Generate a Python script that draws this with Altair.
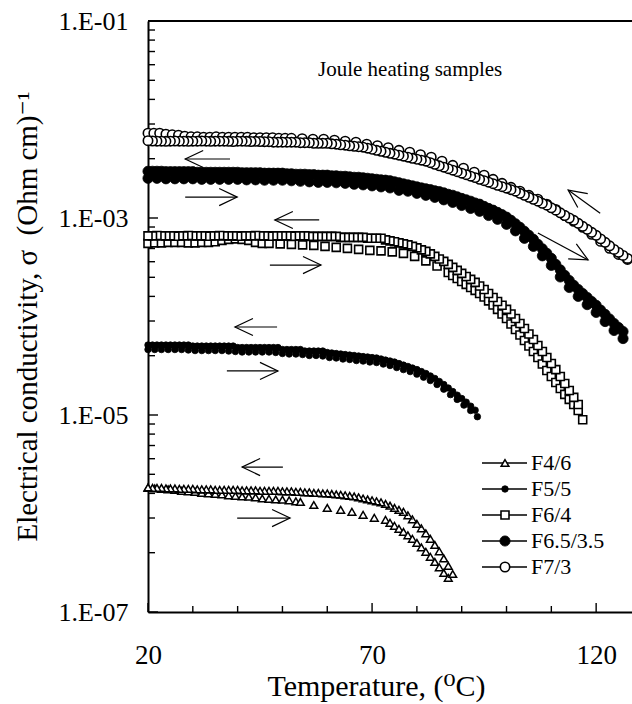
import altair as alt
import pandas as pd

FONT = "'Liberation Serif', 'Times New Roman', 'DejaVu Serif', serif"

# ---------------------------------------------------------------
# Conductivity readings, sigma in (Ohm cm)^-1, temperature in degC
# Each composition has a heating and a cooling run.
# ---------------------------------------------------------------

# F4/6
f46_heat_T = [20, 21.5, 23, 24.5, 26, 27.5, 29, 30.5, 32, 33.5, 35, 36.5, 38, 39.5, 41, 42.5,
              44, 45.5, 47, 48.5, 50, 51.5, 53, 54, 57, 60, 63, 65.5, 68, 70.5, 73,
              74, 75, 76, 77, 78, 79, 80, 81, 82, 83, 84, 85, 86, 87]
f46_heat_s = [1.82e-6, 1.80e-6, 1.78e-6, 1.76e-6, 1.74e-6, 1.70e-6, 1.68e-6, 1.66e-6, 1.62e-6,
              1.60e-6, 1.58e-6, 1.56e-6, 1.53e-6, 1.51e-6, 1.49e-6, 1.48e-6, 1.46e-6, 1.42e-6,
              1.41e-6, 1.39e-6, 1.38e-6, 1.36e-6, 1.33e-6, 1.31e-6, 1.22e-6, 1.14e-6, 1.09e-6,
              1.04e-6, 9.70e-7, 9.04e-7, 8.63e-7, 8.04e-7, 7.50e-7, 6.99e-7, 6.51e-7, 6.00e-7,
              5.53e-7, 5.03e-7, 4.53e-7, 4.08e-7, 3.63e-7, 3.22e-7, 2.84e-7, 2.49e-7, 2.22e-7]
f46_cool_T = [20, 21, 22, 23, 24, 25, 26, 27, 28, 29, 30, 31, 32, 33, 34, 35, 36, 37, 38, 39,
              40, 41, 42, 43, 44, 45, 46, 47, 48, 49, 50, 51, 52, 53, 54, 55, 56, 57, 58, 59,
              60, 61, 62, 63, 64, 65, 66, 67, 68, 69, 70, 71, 72, 73, 74, 75, 76, 77, 78, 79,
              80, 81, 82, 83, 84, 85, 86, 87, 88]
f46_cool_s = [1.84e-6, 1.82e-6, 1.82e-6, 1.82e-6, 1.80e-6, 1.80e-6, 1.80e-6, 1.78e-6, 1.78e-6,
              1.78e-6, 1.78e-6, 1.76e-6, 1.76e-6, 1.76e-6, 1.76e-6, 1.74e-6, 1.74e-6, 1.74e-6,
              1.74e-6, 1.74e-6, 1.74e-6, 1.72e-6, 1.72e-6, 1.72e-6, 1.72e-6, 1.70e-6, 1.70e-6,
              1.70e-6, 1.70e-6, 1.70e-6, 1.68e-6, 1.68e-6, 1.68e-6, 1.66e-6, 1.66e-6, 1.64e-6,
              1.64e-6, 1.62e-6, 1.62e-6, 1.60e-6, 1.60e-6, 1.58e-6, 1.56e-6, 1.55e-6, 1.53e-6,
              1.51e-6, 1.49e-6, 1.46e-6, 1.42e-6, 1.39e-6, 1.36e-6, 1.33e-6, 1.30e-6, 1.25e-6,
              1.20e-6, 1.14e-6, 1.09e-6, 1.04e-6, 9.59e-7, 8.73e-7, 7.86e-7, 7.07e-7, 6.29e-7,
              5.53e-7, 4.80e-7, 4.13e-7, 3.50e-7, 2.94e-7, 2.43e-7]

# F5/5
f55_heat_T = [20, 21.5, 23, 24.5, 26, 27.5, 29, 30.5, 32, 33.5, 35, 36.5, 38, 39.5, 41, 42.5,
              44, 45.5, 47, 48.5, 50, 51.5, 53, 54.5, 56, 57.5, 59, 60.5, 62, 63.5, 65, 66.5,
              68, 69.5, 71, 72.5, 74, 75.5, 77, 78.5, 80, 81.5, 83, 84.5, 86, 87.5, 89, 90.5,
              92, 93.5]
f55_heat_s = [4.62e-5, 4.62e-5, 4.62e-5, 4.62e-5, 4.62e-5, 4.62e-5, 4.57e-5, 4.51e-5, 4.51e-5,
              4.51e-5, 4.51e-5, 4.51e-5, 4.46e-5, 4.41e-5, 4.36e-5, 4.36e-5, 4.36e-5, 4.36e-5,
              4.36e-5, 4.31e-5, 4.21e-5, 4.16e-5, 4.16e-5, 4.11e-5, 4.02e-5, 4.02e-5, 3.97e-5,
              3.83e-5, 3.79e-5, 3.70e-5, 3.66e-5, 3.57e-5, 3.53e-5, 3.45e-5, 3.41e-5, 3.29e-5,
              3.18e-5, 3.03e-5, 2.89e-5, 2.76e-5, 2.60e-5, 2.42e-5, 2.24e-5, 2.04e-5, 1.83e-5,
              1.61e-5, 1.44e-5, 1.26e-5, 1.11e-5, 9.61e-6]
f55_cool_T = [20, 21, 22, 23, 24, 25, 26, 27, 28, 29, 30, 31, 32, 33, 34, 35, 36, 37, 38, 39,
              40, 41, 42, 43, 44, 45, 46, 47, 48, 49, 50, 51, 52, 53, 54, 55, 56, 57, 58, 59,
              60, 61, 62, 63, 64, 65, 66, 67, 68, 69, 70, 71, 72, 73, 74, 75, 76, 77, 78, 79,
              80, 81, 82, 83, 84, 85, 86, 87, 88, 89, 90, 91, 92, 93]
f55_cool_s = [5.13e-5, 5.13e-5, 5.13e-5, 5.13e-5, 5.13e-5, 5.13e-5, 5.13e-5, 5.13e-5, 5.13e-5,
              5.13e-5, 5.01e-5, 5.01e-5, 5.01e-5, 5.01e-5, 5.01e-5, 5.01e-5, 5.01e-5, 5.01e-5,
              5.01e-5, 5.01e-5, 4.84e-5, 4.84e-5, 4.84e-5, 4.84e-5, 4.84e-5, 4.84e-5, 4.84e-5,
              4.84e-5, 4.84e-5, 4.84e-5, 4.62e-5, 4.62e-5, 4.62e-5, 4.62e-5, 4.62e-5, 4.46e-5,
              4.46e-5, 4.46e-5, 4.46e-5, 4.46e-5, 4.31e-5, 4.26e-5, 4.21e-5, 4.16e-5, 4.11e-5,
              4.06e-5, 4.02e-5, 3.97e-5, 3.92e-5, 3.88e-5, 3.83e-5, 3.79e-5, 3.70e-5, 3.61e-5,
              3.53e-5, 3.45e-5, 3.33e-5, 3.21e-5, 3.11e-5, 3.00e-5, 2.89e-5, 2.76e-5, 2.64e-5,
              2.49e-5, 2.35e-5, 2.19e-5, 2.04e-5, 1.88e-5, 1.73e-5, 1.59e-5, 1.47e-5, 1.35e-5,
              1.23e-5, 1.12e-5]

# F6/4
f64_heat_T = [20, 21.5, 23, 24.5, 26, 27.5, 29, 30.5, 32, 33.5, 35, 36.5, 38, 39.5, 41, 42.5,
              44, 45.5, 47, 49.5, 52, 54.5, 57, 59.5, 62, 64.5, 67, 69.5, 72, 74.5, 77, 79.5,
              82, 84.5, 87, 88, 89, 90, 91, 92, 93, 94, 95, 96, 97, 98, 99, 100, 101, 102,
              103, 104, 105, 106, 107, 108, 109, 110, 111, 112, 113, 114, 115, 116, 117]
f64_heat_s = [5.53e-4, 5.59e-4, 5.59e-4, 5.66e-4, 5.66e-4, 5.66e-4, 5.59e-4, 5.59e-4, 5.66e-4,
              5.66e-4, 5.73e-4, 5.93e-4, 6.07e-4, 6.14e-4, 6.07e-4, 5.93e-4, 5.66e-4, 5.53e-4,
              5.53e-4, 5.46e-4, 5.40e-4, 5.34e-4, 5.27e-4, 5.15e-4, 5.03e-4, 4.92e-4, 4.80e-4,
              4.69e-4, 4.64e-4, 4.53e-4, 4.37e-4, 4.08e-4, 3.67e-4, 3.26e-4, 2.80e-4, 2.61e-4,
              2.43e-4, 2.27e-4, 2.12e-4, 1.97e-4, 1.84e-4, 1.71e-4, 1.58e-4, 1.44e-4, 1.31e-4,
              1.18e-4, 1.06e-4, 9.54e-5, 8.39e-5, 7.38e-5, 6.48e-5, 5.70e-5, 5.01e-5, 4.41e-5,
              3.83e-5, 3.29e-5, 2.83e-5, 2.46e-5, 2.14e-5, 1.86e-5, 1.62e-5, 1.44e-5, 1.28e-5,
              1.11e-5, 8.96e-6]
f64_cool_T = [20, 21, 22, 23, 24, 25, 26, 27, 28, 29, 30, 31, 32, 33, 34, 35, 36, 37, 38, 39,
              40, 41, 42, 43, 44, 45, 46, 47, 48, 49, 50, 51, 52, 53, 54, 55, 56, 57, 58, 59,
              60, 61, 62, 63, 64, 65, 66, 67, 68, 69, 70, 71, 72, 73, 74, 75, 76, 77, 78, 79,
              80, 81, 82, 83, 84, 85, 86, 87, 88, 89, 90, 91, 92, 93, 94, 95, 96, 97, 98, 99,
              100, 101, 102, 103, 104, 105, 106, 107, 108, 109, 110, 111, 112, 113, 114, 115,
              116]
f64_cool_s = [6.59e-4, 6.59e-4, 6.65e-4, 6.59e-4, 6.59e-4, 6.59e-4, 6.52e-4, 6.59e-4, 6.59e-4,
              6.65e-4, 6.59e-4, 6.59e-4, 6.59e-4, 6.52e-4, 6.59e-4, 6.59e-4, 6.65e-4, 6.59e-4,
              6.59e-4, 6.59e-4, 6.52e-4, 6.59e-4, 6.59e-4, 6.59e-4, 6.65e-4, 6.59e-4, 6.59e-4,
              6.52e-4, 6.59e-4, 6.59e-4, 6.59e-4, 6.59e-4, 6.52e-4, 6.59e-4, 6.59e-4, 6.59e-4,
              6.51e-4, 6.51e-4, 6.51e-4, 6.51e-4, 6.51e-4, 6.51e-4, 6.51e-4, 6.36e-4, 6.36e-4,
              6.36e-4, 6.36e-4, 6.36e-4, 6.36e-4, 6.22e-4, 6.22e-4, 6.22e-4, 6.22e-4, 6.00e-4,
              5.86e-4, 5.73e-4, 5.59e-4, 5.46e-4, 5.34e-4, 5.15e-4, 4.97e-4, 4.75e-4, 4.58e-4,
              4.32e-4, 4.08e-4, 3.84e-4, 3.63e-4, 3.38e-4, 3.15e-4, 2.94e-4, 2.74e-4, 2.55e-4,
              2.38e-4, 2.22e-4, 2.04e-4, 1.88e-4, 1.71e-4, 1.56e-4, 1.42e-4, 1.30e-4, 1.18e-4,
              1.06e-4, 9.54e-5, 8.49e-5, 7.55e-5, 6.64e-5, 5.84e-5, 5.07e-5, 4.41e-5, 3.83e-5,
              3.33e-5, 2.89e-5, 2.46e-5, 2.09e-5, 1.77e-5, 1.51e-5, 1.28e-5]

# F6.5/3.5
f65_heat_T = [20, 22, 24, 26, 28, 30, 32, 34, 36, 38, 40, 42, 44, 46, 48, 50, 52, 54, 56, 58,
              60, 62, 64, 66, 68, 70, 72, 74, 76, 78, 80, 82, 84, 86, 88, 90, 92, 94, 96, 98,
              100, 102, 104, 106, 108, 110, 112, 114, 116, 118, 120, 122, 124, 126]
f65_heat_s = [2.53e-3, 2.53e-3, 2.50e-3, 2.50e-3, 2.50e-3, 2.50e-3, 2.47e-3, 2.47e-3, 2.47e-3,
              2.47e-3, 2.47e-3, 2.44e-3, 2.44e-3, 2.42e-3, 2.42e-3, 2.42e-3, 2.39e-3, 2.36e-3,
              2.33e-3, 2.30e-3, 2.30e-3, 2.28e-3, 2.25e-3, 2.20e-3, 2.17e-3, 2.12e-3, 2.07e-3,
              2.02e-3, 1.91e-3, 1.87e-3, 1.78e-3, 1.70e-3, 1.62e-3, 1.53e-3, 1.44e-3, 1.34e-3,
              1.25e-3, 1.17e-3, 1.06e-3, 9.70e-4, 8.63e-4, 7.41e-4, 6.22e-4, 5.15e-4, 4.13e-4,
              3.30e-4, 2.52e-4, 1.97e-4, 1.60e-4, 1.32e-4, 1.10e-4, 8.89e-5, 7.21e-5, 5.97e-5]
f65_cool_T = [20, 21, 22, 23, 24, 25, 26, 27, 28, 29, 30, 31, 32, 33, 34, 35, 36, 37, 38, 39,
              40, 41, 42, 43, 44, 45, 46, 47, 48, 49, 50, 51, 52, 53, 54, 55, 56, 57, 58, 59,
              60, 61, 62, 63, 64, 65, 66, 67, 68, 69, 70, 71, 72, 73, 74, 75, 76, 77, 78, 79,
              80, 81, 82, 83, 84, 85, 86, 87, 88, 89, 90, 91, 92, 93, 94, 95, 96, 97, 98, 99,
              100, 101, 102, 103, 104, 105, 106, 107, 108, 109, 110, 111, 112, 113, 114, 115,
              116, 117, 118, 119, 120, 121, 122, 123, 124, 125, 126]
f65_cool_s = [2.98e-3, 2.98e-3, 2.98e-3, 2.98e-3, 2.95e-3, 2.95e-3, 2.95e-3, 2.95e-3, 2.95e-3,
              2.95e-3, 2.95e-3, 2.91e-3, 2.91e-3, 2.91e-3, 2.91e-3, 2.91e-3, 2.91e-3, 2.91e-3,
              2.91e-3, 2.91e-3, 2.91e-3, 2.88e-3, 2.88e-3, 2.88e-3, 2.88e-3, 2.88e-3, 2.85e-3,
              2.85e-3, 2.85e-3, 2.85e-3, 2.85e-3, 2.81e-3, 2.81e-3, 2.78e-3, 2.78e-3, 2.78e-3,
              2.75e-3, 2.75e-3, 2.72e-3, 2.72e-3, 2.72e-3, 2.68e-3, 2.68e-3, 2.65e-3, 2.65e-3,
              2.62e-3, 2.59e-3, 2.59e-3, 2.56e-3, 2.53e-3, 2.50e-3, 2.47e-3, 2.44e-3, 2.42e-3,
              2.39e-3, 2.33e-3, 2.28e-3, 2.22e-3, 2.17e-3, 2.12e-3, 2.07e-3, 2.02e-3, 1.98e-3,
              1.94e-3, 1.89e-3, 1.85e-3, 1.80e-3, 1.74e-3, 1.70e-3, 1.64e-3, 1.58e-3, 1.53e-3,
              1.48e-3, 1.42e-3, 1.38e-3, 1.31e-3, 1.25e-3, 1.20e-3, 1.14e-3, 1.08e-3, 1.02e-3,
              9.47e-4, 8.73e-4, 8.04e-4, 7.32e-4, 6.67e-4, 6.07e-4, 5.40e-4, 4.86e-4, 4.37e-4,
              3.89e-4, 3.38e-4, 2.97e-4, 2.61e-4, 2.32e-4, 2.07e-4, 1.88e-4, 1.71e-4, 1.56e-4,
              1.42e-4, 1.30e-4, 1.16e-4, 1.05e-4, 9.43e-5, 8.49e-5, 7.73e-5, 7.04e-5]

# F7/3
f73_heat_T = [20, 21.3, 22.6, 24, 25.4, 26.8, 28.2, 29.6, 31, 32.4, 33.8, 35.2, 36.6, 38, 39.4,
              40.8, 42.2, 43.6, 45, 46.4, 47.8, 49.2, 50.6, 52, 54.4, 56.8, 59.2, 61.6, 64,
              66.4, 68.8, 71.2, 73.6, 76, 78.4, 80.8, 83.2, 85.6, 88, 90.4, 92.8, 95, 97, 99,
              101, 103, 105, 107, 109, 111, 113, 115, 117, 119, 121, 123, 125, 127]
f73_heat_s = [7.26e-3, 7.26e-3, 7.26e-3, 7.09e-3, 7.00e-3, 6.92e-3, 6.76e-3, 6.68e-3, 6.68e-3,
              6.61e-3, 6.61e-3, 6.68e-3, 6.61e-3, 6.61e-3, 6.61e-3, 6.61e-3, 6.61e-3, 6.53e-3,
              6.53e-3, 6.53e-3, 6.53e-3, 6.45e-3, 6.45e-3, 6.45e-3, 6.38e-3, 6.31e-3, 6.31e-3,
              6.16e-3, 6.02e-3, 5.88e-3, 5.61e-3, 5.42e-3, 5.17e-3, 4.87e-3, 4.65e-3, 4.39e-3,
              4.14e-3, 3.77e-3, 3.43e-3, 3.20e-3, 2.92e-3, 2.72e-3, 2.47e-3, 2.25e-3, 2.05e-3,
              1.87e-3, 1.70e-3, 1.55e-3, 1.38e-3, 1.22e-3, 1.06e-3, 9.26e-4, 8.04e-4, 6.83e-4,
              5.79e-4, 4.92e-4, 4.27e-4, 3.80e-4]
f73_cool_T = [20, 21, 22, 23, 24, 25, 26, 27, 28, 29, 30, 31, 32, 33, 34, 35, 36, 37, 38, 39,
              40, 41, 42, 43, 44, 45, 46, 47, 48, 49, 50, 51, 52, 53, 54, 55, 56, 57, 58, 59,
              60, 61, 62, 63, 64, 65, 66, 67, 68, 69, 70, 71, 72, 73, 74, 75, 76, 77, 78, 79,
              80, 81, 82, 83, 84, 85, 86, 87, 88, 89, 90, 91, 92, 93, 94, 95, 96, 97, 98, 99,
              100, 101, 102, 103, 104, 105, 106, 107, 108, 109, 110, 111, 112, 113, 114, 115,
              116, 117, 118, 119, 120, 121, 122, 123, 124, 125, 126, 127]
f73_cool_s = [6.10e-3, 6.05e-3, 6.02e-3, 6.02e-3, 6.00e-3, 6.02e-3, 6.05e-3, 6.02e-3, 6.02e-3,
              6.00e-3, 6.02e-3, 6.02e-3, 6.05e-3, 6.02e-3, 6.00e-3, 6.02e-3, 6.02e-3, 6.02e-3,
              6.00e-3, 5.98e-3, 6.02e-3, 6.02e-3, 6.00e-3, 5.98e-3, 6.00e-3, 5.98e-3, 5.95e-3,
              5.95e-3, 5.88e-3, 5.88e-3, 5.88e-3, 5.88e-3, 5.88e-3, 5.88e-3, 5.81e-3, 5.81e-3,
              5.81e-3, 5.74e-3, 5.74e-3, 5.74e-3, 5.74e-3, 5.67e-3, 5.61e-3, 5.54e-3, 5.48e-3,
              5.41e-3, 5.35e-3, 5.29e-3, 5.23e-3, 5.11e-3, 4.99e-3, 4.87e-3, 4.76e-3, 4.65e-3,
              4.54e-3, 4.44e-3, 4.34e-3, 4.24e-3, 4.14e-3, 4.04e-3, 3.95e-3, 3.86e-3, 3.77e-3,
              3.64e-3, 3.51e-3, 3.39e-3, 3.28e-3, 3.17e-3, 3.06e-3, 2.95e-3, 2.85e-3, 2.75e-3,
              2.66e-3, 2.57e-3, 2.47e-3, 2.39e-3, 2.31e-3, 2.23e-3, 2.15e-3, 2.08e-3, 2.01e-3,
              1.94e-3, 1.87e-3, 1.78e-3, 1.70e-3, 1.62e-3, 1.55e-3, 1.48e-3, 1.41e-3, 1.35e-3,
              1.27e-3, 1.20e-3, 1.13e-3, 1.06e-3, 1.00e-3, 9.47e-4, 8.83e-4, 8.24e-4, 7.67e-4,
              7.16e-4, 6.67e-4, 6.14e-4, 5.66e-4, 5.22e-4, 4.80e-4, 4.47e-4, 4.17e-4, 3.89e-4]

SERIES = ["F4/6", "F5/5", "F6/4", "F6.5/3.5", "F7/3"]
RUNS = {
    "F4/6": [(f46_heat_T, f46_heat_s), (f46_cool_T, f46_cool_s)],
    "F5/5": [(f55_heat_T, f55_heat_s), (f55_cool_T, f55_cool_s)],
    "F6/4": [(f64_heat_T, f64_heat_s), (f64_cool_T, f64_cool_s)],
    "F6.5/3.5": [(f65_heat_T, f65_heat_s), (f65_cool_T, f65_cool_s)],
    "F7/3": [(f73_heat_T, f73_heat_s), (f73_cool_T, f73_cool_s)],
}

# Direction arrows (tail -> head) and the heading of each arrow head on screen
arrow_T0 = [38.3, 28.3, 58.2, 47.2, 48.8, 37.6, 50.1, 39.9, 120.9, 107.0]
arrow_s0 = [3.97e-3, 1.63e-3, 9.55e-4, 3.33e-4, 7.82e-5, 2.80e-5, 2.96e-6, 8.99e-7, 1.12e-3, 7.05e-4]
arrow_T1 = [28.3, 39.9, 48.3, 58.6, 39.4, 49.0, 41.0, 51.7, 113.75, 118.2]
arrow_s1 = [3.97e-3, 1.63e-3, 9.55e-4, 3.33e-4, 7.82e-5, 2.80e-5, 2.96e-6, 8.99e-7, 1.92e-3, 3.75e-4]
arrow_heading = [180, 0, 180, 0, 180, 0, 180, 0, 215.7, 28.4]

# Axis ticks
x_label_ticks = [20, 70, 120]
x_minor_ticks = [30, 40, 50, 60, 80, 90, 100, 110]
y_label_ticks = [1e-7, 1e-5, 1e-3, 1e-1]
y_minor_ticks = [4e-7, 9e-7, 1.6e-6, 2.5e-6, 3.6e-6, 4.9e-6, 6.4e-6, 8.1e-6,
                 4e-5, 9e-5, 1.6e-4, 2.5e-4, 3.6e-4, 4.9e-4, 6.4e-4, 8.1e-4,
                 4e-3, 9e-3, 1.6e-2, 2.5e-2, 3.6e-2, 4.9e-2, 6.4e-2, 8.1e-2]

MARKERS = {
    "F4/6": dict(shape="triangle-up", fill="white", size=60, sw=1.5),
    "F5/5": dict(shape="circle", fill="black", size=42, sw=0.8),
    "F6/4": dict(shape="square", fill="white", size=64, sw=1.6),
    "F6.5/3.5": dict(shape="circle", fill="black", size=104, sw=0.8),
    "F7/3": dict(shape="circle", fill="white", size=88, sw=1.6),
}

W, H = 484, 591
x_scale = alt.Scale(domain=[20, 128], nice=False, zero=False)
y_scale = alt.Scale(type="log", domain=[1e-7, 1e-1], nice=False)

x_axis = alt.Axis(
    values=x_label_ticks, ticks=False, tickSize=0, grid=False,
    domainColor="black", domainWidth=2, labelFlush=False,
    labelFont=FONT, labelFontSize=27, labelColor="black", labelPadding=30,
    title="Temperature, (\u2070C)", titleFont=FONT, titleFontSize=30,
    titleFontWeight="normal", titleColor="black",
    titleX=228, titleY=83, titleBaseline="alphabetic",
)
y_axis = alt.Axis(
    values=y_label_ticks, ticks=False, tickSize=0, grid=False,
    domainColor="black", domainWidth=2,
    labelExpr="'1.E-0' + round(-log(datum.value) / LN10)",
    labelFont=FONT, labelFontSize=26, labelColor="black", labelPadding=20,
    title="Electrical conductivity, \u03c3 \u00a0(Ohm cm)\u207b\u00b9",
    titleFont=FONT, titleFontSize=29, titleFontWeight="normal", titleColor="black",
    titleAngle=270, titleX=-112, titleY=295, titleBaseline="alphabetic",
)


def X(field):
    return alt.X(field, type="quantitative", scale=x_scale, axis=x_axis)


def Y(field):
    return alt.Y(field, type="quantitative", scale=y_scale, axis=y_axis)


one = pd.DataFrame({"k": [0]})
layers = []

# inward tick marks
for vals, length in [(y_label_ticks, 10), (y_minor_ticks, 7)]:
    layers.append(
        alt.Chart(pd.DataFrame({"v": vals})).mark_rule(color="black", strokeWidth=1.4)
        .encode(y=Y("v"), x=alt.value(0), x2=alt.value(length))
    )
for vals, length in [(x_label_ticks, 9), (x_minor_ticks, 6)]:
    layers.append(
        alt.Chart(pd.DataFrame({"v": vals})).mark_rule(color="black", strokeWidth=1.4)
        .encode(x=X("v"), y=alt.value(H), y2=alt.value(H - length))
    )

# frame line along the top
layers.append(
    alt.Chart(one).mark_rule(color="black", strokeWidth=2)
    .encode(x=alt.value(0), x2=alt.value(W), y=alt.value(0))
)

# measured points
for name in SERIES:
    m = MARKERS[name]
    for i, (T, s) in enumerate(RUNS[name]):
        df = pd.DataFrame({"T": T, "sigma": s})
        if i == 1:
            df = df.iloc[::-1]  # cooling run recorded from high to low temperature
        layers.append(
            alt.Chart(df).mark_point(
                shape=m["shape"], size=m["size"], filled=True, fill=m["fill"],
                stroke="black", strokeWidth=m["sw"], opacity=1,
            ).encode(x=X("T"), y=Y("sigma"))
        )

# direction arrows
arrows = pd.DataFrame({"T0": arrow_T0, "s0": arrow_s0, "T1": arrow_T1,
                       "s1": arrow_s1, "ang": arrow_heading})
layers.append(
    alt.Chart(arrows).mark_rule(color="black", strokeWidth=1.2)
    .encode(x=X("T0"), y=Y("s0"), x2="T1", y2="s1")
)
HEAD = "M -2 -0.95 L 0 0 L -2 0.95"
layers.append(
    alt.Chart(arrows).mark_point(shape=HEAD, size=324, filled=False, stroke="black",
                                 strokeWidth=1.2, opacity=1)
    .encode(x=X("T1"), y=Y("s1"), angle=alt.Angle("ang:Q", scale=None))
)

# heading text
layers.append(
    alt.Chart(one).mark_text(align="left", baseline="alphabetic", font=FONT,
                             fontSize=21, color="black")
    .encode(x=alt.value(170), y=alt.value(55), text=alt.value("Joule heating samples"))
)

# legend
for i, name in enumerate(SERIES):
    m = MARKERS[name]
    ry = 442 + 26 * i
    layers.append(
        alt.Chart(one).mark_rule(color="black", strokeWidth=1.3)
        .encode(x=alt.value(334), x2=alt.value(379), y=alt.value(ry))
    )
    layers.append(
        alt.Chart(one).mark_point(shape=m["shape"], size=m["size"], filled=True,
                                  fill=m["fill"], stroke="black", strokeWidth=m["sw"],
                                  opacity=1)
        .encode(x=alt.value(357), y=alt.value(ry))
    )
    layers.append(
        alt.Chart(one).mark_text(align="left", baseline="middle", font=FONT,
                                 fontSize=22, color="black")
        .encode(x=alt.value(383), y=alt.value(ry), text=alt.value(name))
    )

chart = (
    alt.layer(*layers)
    .properties(
        width=W, height=H,
        padding={"left": 148, "top": 21, "right": 0, "bottom": 92},
        autosize=alt.AutoSizeParams(type="none"),
        background="white",
    )
    .configure(font=FONT)
    .configure_view(stroke=None)
)

chart.save("out.html", embed_options={"renderer": "svg", "actions": False})
